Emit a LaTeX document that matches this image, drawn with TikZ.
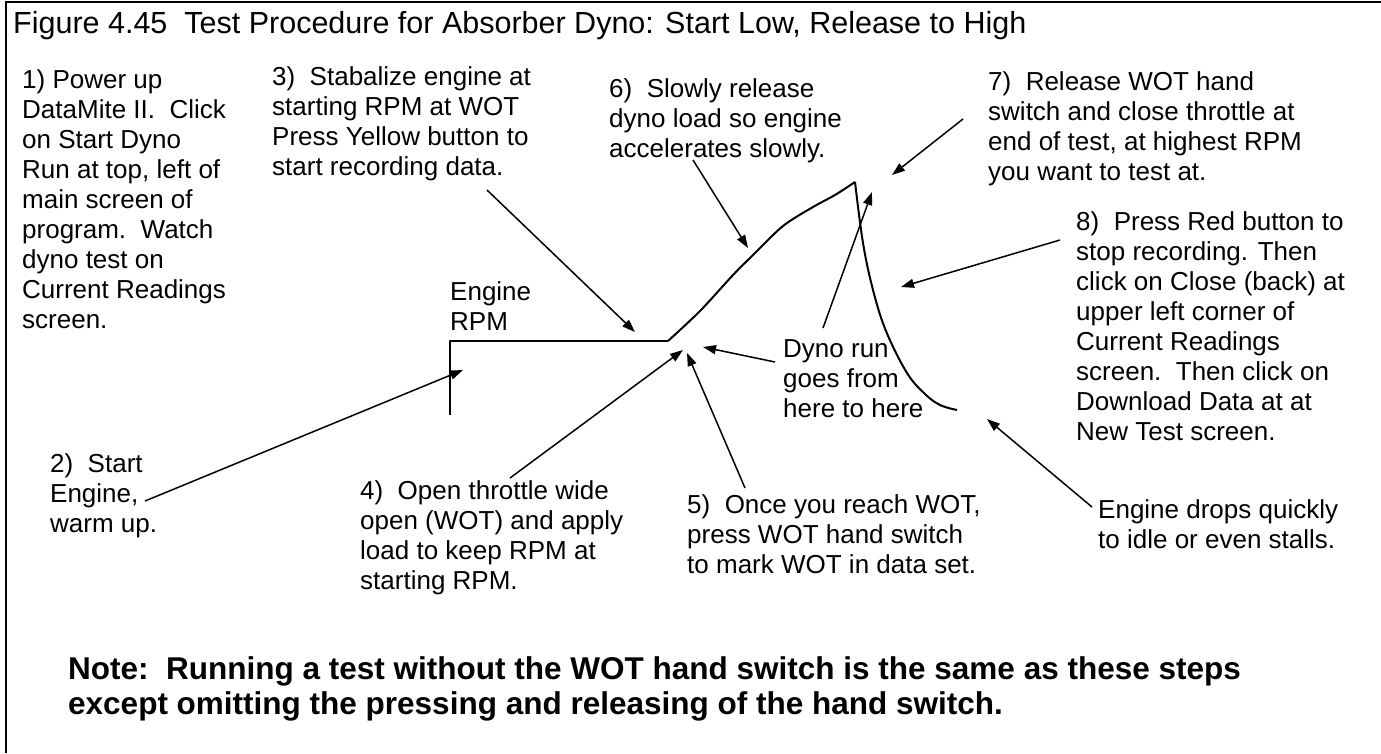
\documentclass[tikz,border=0pt]{standalone}
\usepackage{fontspec}
\setmainfont{Liberation Sans}
\usetikzlibrary{arrows.meta}
\begin{document}
\begin{tikzpicture}[x=1pt,y=-1pt,
  txt/.style={anchor=north west, inner sep=0pt, align=left, font=\fontsize{26}{30}\selectfont},
  arr/.style={line width=1.5pt, -{Triangle[length=13pt,width=9pt]}},
  rpmcurve/.style={line width=2pt, line join=round}]
\useasboundingbox (0,0) rectangle (1381,753);
\draw[line width=2pt] (6,753) -- (6,1.5) -- (1381,1.5);
% title
\node[anchor=north west, inner sep=0pt, font=\fontsize{30.5}{35}\selectfont] (title) at (13,11)
  {Figure 4.45\ \ Test Procedure for Absorber Dyno: Start Low, Release to High};
% texts
\node[txt] (t1) at (22,69) {1) Power up\\DataMite II.\ \ Click\\on Start Dyno\\Run at top, left of\\main screen of\\program.\ \ Watch\\dyno test on\\Current Readings\\screen.};
\node[txt] (t3) at (272,66) {3)\ \ Stabalize engine at\\starting RPM at WOT\\Press Yellow button to\\start recording data.};
\node[txt] (t6) at (609,78) {6)\ \ Slowly release\\dyno load so engine\\accelerates slowly.};
\node[txt] (t7) at (988,71) {7)\ \ Release WOT hand\\switch and close throttle at\\end of test, at highest RPM\\you want to test at.};
\node[txt] (t8) at (1076,211) {8)\ \ Press Red button to\\stop recording. Then\\click on Close (back) at\\upper left corner of\\Current Readings\\screen.\ \ Then click on\\Download Data at at\\New Test screen.};
\node[txt] (rpm) at (450,281) {Engine\\RPM};
\node[txt] (dyno) at (783,339) {Dyno run\\goes from\\here to here};
\node[txt] (t2) at (50,453) {2)\ \ Start\\Engine,\\warm up.};
\node[txt] (t4) at (360,480) {4)\ \ Open throttle wide\\open (WOT) and apply\\load to keep RPM at\\starting RPM.};
\node[txt] (t5) at (687,494) {5)\ \ Once you reach WOT,\\press WOT hand switch\\to mark WOT in data set.};
\node[txt] (tdrop) at (1098,499) {Engine drops quickly\\to idle or even stalls.};
\node[anchor=north west, inner sep=0pt, align=left, font=\bfseries\fontsize{31.5}{35}\selectfont] (note) at (68,656)
  {Note:\ \ Running a test without the WOT hand switch is the same as these steps\\except omitting the pressing and releasing of the hand switch.};
% RPM trace
\draw[rpmcurve] (450,415) -- (450,341) -- (668,341);
\draw[rpmcurve] plot[smooth, tension=0.5] coordinates {(668,341) (700,311) (733,275) (752,256) (783,226) (813,207) (835,195) (855,182)};
\draw[rpmcurve] plot[smooth, tension=0.6] coordinates {(855,182) (863,243) (873,290) (886,331) (907,373) (925,394) (940,405) (957,410)};
% arrow end points
\coordinate (a2s) at (145,501);  \coordinate (a2e) at (463,370);
\coordinate (a3s) at (487,190);  \coordinate (a3e) at (635,332);
\coordinate (a6s) at (693,160);  \coordinate (a6e) at (748,248);
\coordinate (a4s) at (510,478);  \coordinate (a4e) at (683,350);
\coordinate (a5s) at (745,488);  \coordinate (a5e) at (687,353);
\coordinate (d1s) at (775,362);  \coordinate (d1e) at (703,347);
\coordinate (d2s) at (823,328);  \coordinate (d2e) at (872,192);
\coordinate (a7s) at (963,119);  \coordinate (a7e) at (892,175);
\coordinate (a8s) at (1060,240); \coordinate (a8e) at (901,287);
\coordinate (ads) at (1092,507); \coordinate (ade) at (987,419);
\draw[arr] (a2s) -- (a2e);
\draw[arr] (a3s) -- (a3e);
\draw[arr] (a6s) -- (a6e);
\draw[arr] (a4s) -- (a4e);
\draw[arr] (a5s) -- (a5e);
\draw[arr] (d1s) -- (d1e);
\draw[arr] (d2s) -- (d2e);
\draw[arr] (a7s) -- (a7e);
\draw[arr] (a8s) -- (a8e);
\draw[arr] (ads) -- (ade);
\end{tikzpicture}
\end{document}
